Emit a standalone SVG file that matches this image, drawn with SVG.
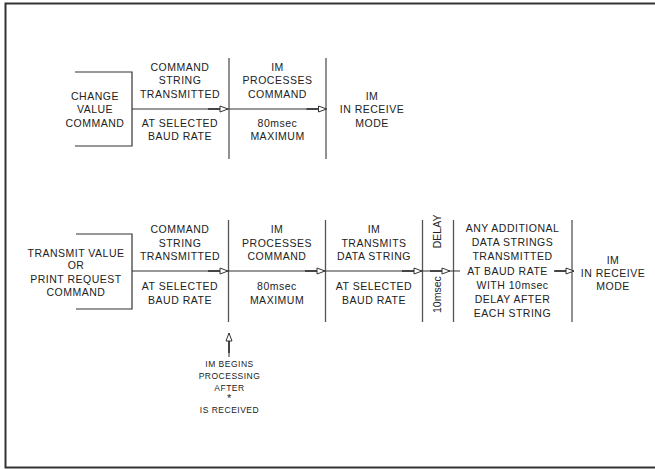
<svg xmlns="http://www.w3.org/2000/svg" width="655" height="469" viewBox="0 0 655 469">
  <style>
    .t { font-family: "Liberation Sans", Arial, sans-serif; font-size: 10.5px; fill: #222; text-anchor: middle; letter-spacing: 0.5px; }
    .s { font-family: "Liberation Sans", Arial, sans-serif; font-size: 8.5px; fill: #222; text-anchor: middle; letter-spacing: 0.5px; }
    .ln { stroke: #333; stroke-width: 1; fill: none; }
    .dv { stroke: #555; stroke-width: 1.3; fill: none; }
    .br { stroke: #333; stroke-width: 1.2; fill: none; }
    .ar { stroke: #333; stroke-width: 1; fill: none; marker-end: url(#arr); }
  </style>
  <defs>
    <marker id="arr" markerUnits="userSpaceOnUse" markerWidth="30" markerHeight="10" viewBox="-22 -5 30 10" refX="8" refY="0" orient="auto" overflow="visible">
      <line x1="-12" y1="0" x2="0" y2="0" stroke="#222" stroke-width="1.4"/>
      <polygon points="0,-3 8,0 0,3" fill="#fff" stroke="#333" stroke-width="1"/>
    </marker>
  </defs>
  <rect width="655" height="469" fill="#fff"/>
  <g id="frame">
    <rect x="5.5" y="3.5" width="660" height="464" fill="none" stroke="#333" stroke-width="2"/>
  </g>

  <g id="dividers">
    <line class="dv" x1="229" y1="58" x2="229" y2="159"/>
    <line class="dv" x1="326" y1="58" x2="326" y2="159"/>
    <line class="dv" x1="228.5" y1="220" x2="228.5" y2="322"/>
    <line class="dv" x1="325.5" y1="220" x2="325.5" y2="322"/>
    <line class="dv" x1="422.5" y1="220" x2="422.5" y2="322"/>
    <line class="dv" x1="453.5" y1="220" x2="453.5" y2="322"/>
    <line class="dv" x1="572" y1="220" x2="572" y2="322"/>
  </g>

  <!-- Row 1 -->
  <g id="r1-change">
    <polyline class="br" points="75,72 132,72 132,146 75,146"/>
    <text class="t" x="95" y="99.5">CHANGE</text>
    <text class="t" x="95" y="113">VALUE</text>
    <text class="t" x="95" y="126.5">COMMAND</text>
  </g>
  <g id="r1-transmit">
    <text class="t" x="180" y="71">COMMAND</text>
    <text class="t" x="180" y="84.3">STRING</text>
    <text class="t" x="180" y="97.5">TRANSMITTED</text>
    <text class="t" x="180" y="126.5">AT SELECTED</text>
    <text class="t" x="180" y="139.5">BAUD RATE</text>
  </g>
  <g id="r1-process">
    <text class="t" x="277.5" y="71">IM</text>
    <text class="t" x="277.5" y="84.3">PROCESSES</text>
    <text class="t" x="277.5" y="97.5">COMMAND</text>
    <text class="t" x="277.5" y="126.5">80msec</text>
    <text class="t" x="277.5" y="139.5">MAXIMUM</text>
  </g>
  <g id="r1-receive">
    <text class="t" x="372" y="99.5">IM</text>
    <text class="t" x="372" y="113">IN RECEIVE</text>
    <text class="t" x="372" y="126.5">MODE</text>
  </g>

  <!-- Row 2 -->
  <g id="r2-request">
    <polyline class="br" points="76,234 132,234 132,309 76,309"/>
    <text class="t" x="76" y="256.7">TRANSMIT VALUE</text>
    <text class="t" x="76" y="268.5">OR</text>
    <text class="t" x="76" y="282.7">PRINT REQUEST</text>
    <text class="t" x="76" y="296">COMMAND</text>
  </g>
  <g id="r2-transmit">
    <text class="t" x="180" y="233">COMMAND</text>
    <text class="t" x="180" y="246.5">STRING</text>
    <text class="t" x="180" y="260">TRANSMITTED</text>
    <text class="t" x="180" y="290">AT SELECTED</text>
    <text class="t" x="180" y="303.5">BAUD RATE</text>
  </g>
  <g id="r2-process">
    <text class="t" x="277" y="233">IM</text>
    <text class="t" x="277" y="246.5">PROCESSES</text>
    <text class="t" x="277" y="260">COMMAND</text>
    <text class="t" x="277" y="290">80msec</text>
    <text class="t" x="277" y="303.5">MAXIMUM</text>
  </g>
  <g id="r2-data">
    <text class="t" x="374" y="233">IM</text>
    <text class="t" x="374" y="246.5">TRANSMITS</text>
    <text class="t" x="374" y="260">DATA STRING</text>
    <text class="t" x="374" y="290">AT SELECTED</text>
    <text class="t" x="374" y="303.5">BAUD RATE</text>
  </g>
  <g id="r2-delay">
    <text class="t" style="text-anchor:start;letter-spacing:0" transform="translate(441,313) rotate(-90)">10msec<tspan dx="28">DELAY</tspan></text>
  </g>
  <g id="r2-additional">
    <text class="t" x="512.5" y="231.7">ANY ADDITIONAL</text>
    <text class="t" x="512.5" y="246">DATA STRINGS</text>
    <text class="t" x="512.5" y="260.2">TRANSMITTED</text>
    <text class="t" x="507.5" y="275">AT BAUD RATE</text>
    <text class="t" x="512.5" y="288.8">WITH 10msec</text>
    <text class="t" x="512.5" y="302.8">DELAY AFTER</text>
    <text class="t" x="512.5" y="316.8">EACH STRING</text>
  </g>
  <g id="r2-receive">
    <text class="t" x="613" y="263.5">IM</text>
    <text class="t" x="613" y="276.5">IN RECEIVE</text>
    <text class="t" x="613" y="289.5">MODE</text>
  </g>
  <g id="note">
    <text class="s" x="229.5" y="367">IM BEGINS</text>
    <text class="s" x="229.5" y="379">PROCESSING</text>
    <text class="s" x="229.5" y="390.5">AFTER</text>
    <text class="s" x="229.5" y="401.5" style="font-size:11px">*</text>
    <text class="s" x="229.5" y="413">IS RECEIVED</text>
  </g>

  <g id="connectors">
    <line class="ar" x1="132" y1="109" x2="228" y2="109"/>
    <line class="ar" x1="228" y1="109" x2="326.5" y2="109"/>
    <line class="ar" x1="132" y1="271" x2="228" y2="271"/>
    <line class="ar" x1="228" y1="271" x2="325" y2="271"/>
    <line class="ar" x1="325" y1="271" x2="422" y2="271"/>
    <line class="ar" x1="422" y1="271" x2="450" y2="271"/>
    <line class="ln" x1="450" y1="271" x2="460" y2="271"/>
    <line class="ar" x1="555" y1="271" x2="574" y2="271"/>
    <line class="ar" x1="229" y1="357" x2="229" y2="333"/>
  </g>
</svg>
